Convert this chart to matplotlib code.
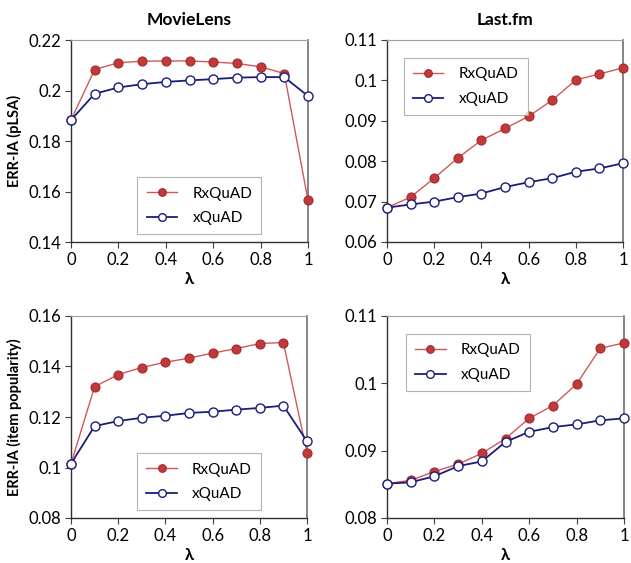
import numpy as np
import matplotlib
matplotlib.use('Agg')
import matplotlib.pyplot as plt

plt.rcParams['font.family'] = ['Lato', 'DejaVu Sans']

lam = [0, 0.1, 0.2, 0.3, 0.4, 0.5, 0.6, 0.7, 0.8, 0.9, 1]

# MovieLens, pLSA
ml_plsa_rx = [0.1883, 0.2083, 0.2110, 0.2116, 0.2117, 0.2117, 0.2113, 0.2107, 0.2094, 0.2067, 0.1565]
ml_plsa_x = [0.1883, 0.1987, 0.2012, 0.2025, 0.2034, 0.2040, 0.2045, 0.2051, 0.2053, 0.2053, 0.1978]
# Last.fm, pLSA
fm_plsa_rx = [0.0685, 0.0711, 0.0758, 0.0808, 0.0852, 0.0881, 0.0911, 0.0951, 0.1001, 0.1016, 0.1031]
fm_plsa_x = [0.0685, 0.0693, 0.0700, 0.0711, 0.0720, 0.0736, 0.0748, 0.0758, 0.0774, 0.0782, 0.0795]
# MovieLens, item popularity
ml_pop_rx = [0.1015, 0.1320, 0.1368, 0.1396, 0.1417, 0.1433, 0.1453, 0.1471, 0.1491, 0.1495, 0.1058]
ml_pop_x = [0.1015, 0.1164, 0.1184, 0.1197, 0.1205, 0.1216, 0.1221, 0.1229, 0.1236, 0.1245, 0.1104]
# Last.fm, item popularity
fm_pop_rx = [0.0851, 0.0856, 0.0869, 0.0880, 0.0896, 0.0918, 0.0948, 0.0967, 0.0999, 0.1052, 0.1060]
fm_pop_x = [0.0851, 0.0853, 0.0862, 0.0877, 0.0884, 0.0913, 0.0928, 0.0935, 0.0939, 0.0945, 0.0948]

xticks = [0, 0.2, 0.4, 0.6, 0.8, 1]
xticklabels = ['0', '0.2', '0.4', '0.6', '0.8', '1']

RED_LINE = '#D0585A'
RED_FACE = '#C0393B'
RED_EDGE = '#A52A2A'
BLUE = '#1C1C7A'

fig = plt.figure(figsize=(6.31, 5.63), dpi=100)


def panel(rect, rx, x, ylim, yticks, yticklabels, legend_bbox, title=None, ylabel=None):
    ax = fig.add_axes(rect)
    ax.plot(lam, rx, '-', color=RED_LINE, lw=1.0, marker='o', ms=6.5,
            mfc=RED_FACE, mec=RED_EDGE, mew=0.8, label='RxQuAD', zorder=3, clip_on=False)
    ax.plot(lam, x, '-', color=BLUE, lw=1.3, marker='o', ms=6.5,
            mfc='white', mec=BLUE, mew=1.0, label='xQuAD', zorder=4, clip_on=False)
    ax.set_xlim(0, 1)
    ax.set_ylim(*ylim)
    ax.set_xticks(xticks)
    ax.set_xticklabels(xticklabels)
    ax.set_yticks(yticks)
    ax.set_yticklabels(yticklabels)
    ax.tick_params(axis='both', which='major', labelsize=12, direction='out',
                   length=4, width=0.8, color='#404040', pad=3)
    for s in ['left', 'bottom']:
        ax.spines[s].set_color('#303030')
        ax.spines[s].set_linewidth(1.0)
    ax.spines['top'].set_color('#a0a0a0')
    ax.spines['top'].set_linewidth(0.8)
    ax.spines['right'].set_color('#707070')
    ax.spines['right'].set_linewidth(1.2)
    ax.set_xlabel('λ', fontsize=12, fontweight='bold', labelpad=2)
    if title:
        ax.set_title(title, fontsize=12.5, fontweight='bold', pad=11)
    if ylabel:
        ax.set_ylabel(ylabel, fontsize=10.5, fontweight='bold', labelpad=5)
    leg = ax.legend(loc='upper left', bbox_to_anchor=legend_bbox, fontsize=11,
                    frameon=True, fancybox=False, edgecolor='#a0a0a0',
                    borderpad=0.6, labelspacing=0.7, handlelength=2.0,
                    handletextpad=1.0, borderaxespad=0, markerscale=0.85)
    leg.get_frame().set_linewidth(0.8)
    return ax


h = 202 / 563
panel([71 / 631, 1 - 242 / 563, 237 / 631, h], ml_plsa_rx, ml_plsa_x,
      (0.14, 0.22), [0.14, 0.16, 0.18, 0.2, 0.22], ['0.14', '0.16', '0.18', '0.2', '0.22'],
      (0.28, 0.32), title='MovieLens', ylabel='ERR-IA (pLSA)')
panel([387 / 631, 1 - 242 / 563, 236 / 631, h], fm_plsa_rx, fm_plsa_x,
      (0.06, 0.11), [0.06, 0.07, 0.08, 0.09, 0.1, 0.11], ['0.06', '0.07', '0.08', '0.09', '0.1', '0.11'],
      (0.07, 0.91), title='Last.fm')
panel([71 / 631, 1 - 518 / 563, 236 / 631, h], ml_pop_rx, ml_pop_x,
      (0.08, 0.16), [0.08, 0.1, 0.12, 0.14, 0.16], ['0.08', '0.1', '0.12', '0.14', '0.16'],
      (0.28, 0.32), ylabel='ERR-IA (item popularity)')
panel([387 / 631, 1 - 518 / 563, 237 / 631, h], fm_pop_rx, fm_pop_x,
      (0.08, 0.11), [0.08, 0.09, 0.1, 0.11], ['0.08', '0.09', '0.1', '0.11'],
      (0.08, 0.91))

fig.savefig('out.png', dpi=100)
